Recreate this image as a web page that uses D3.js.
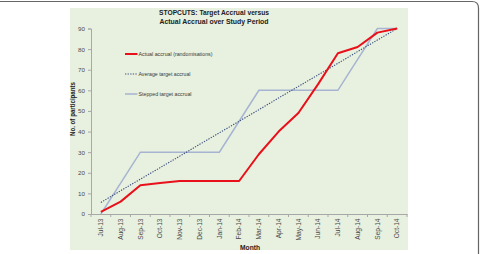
<!DOCTYPE html>
<html>
<head>
<meta charset="utf-8">
<script src="https://cdn.jsdelivr.net/npm/d3@7"></script>
<style>
  html, body { margin: 0; padding: 0; background: #fff; }
  svg { display: block; }
  text { font-family: "Liberation Sans Narrow", "Liberation Sans", Arial, sans-serif; }
</style>
</head>
<body>
<div id="chart"></div>
<script>
// Data
var months = ["Jul-13", "Aug-13", "Sep-13", "Oct-13", "Nov-13", "Dec-13", "Jan-14", "Feb-14",
              "Mar-14", "Apr-14", "May-14", "Jun-14", "Jul-14", "Aug-14", "Sep-14", "Oct-14"];
var actual = [1, 6, 14, 15, 16, 16, 16, 16, 29, 40, 49, 63, 78, 81, 88, 90];
var averageTarget = [5.6, 11.3, 16.9, 22.5, 28.1, 33.8, 39.4, 45, 50.6, 56.3, 61.9, 67.5, 73.1, 78.8, 84.4, 90];
var steppedTarget = [0, 15, 30, 30, 30, 30, 30, 45, 60, 60, 60, 60, 60, 75, 90, 90];
var yTicks = [0, 10, 20, 30, 40, 50, 60, 70, 80, 90];

// Sizing
var width = 480;
var height = 254;

var svg = d3.select("#chart")
    .append("svg")
    .attr("width", width)
    .attr("height", height);

// Outer frame (rounded, top and right visible)
svg.append("path")
    .attr("d", "M0,1.5 H472 Q478.5,1.5 478.5,8 V254")
    .attr("fill", "none")
    .attr("stroke", "#666")
    .attr("stroke-width", 1.2);

// Green panel
svg.append("rect")
    .attr("x", 70).attr("y", 8)
    .attr("width", 338).attr("height", 242)
    .attr("fill", "#e8f0df");

// Scales
var x = d3.scaleBand().domain(months).range([91, 407]);
var y = d3.scaleLinear().domain([0, 90]).range([214, 28.5]);
var cx = function (d, i) { return x(months[i]) + x.bandwidth() / 2; };

// Y axis
var yAxis = svg.append("g")
    .attr("transform", "translate(91,0)")
    .call(d3.axisLeft(y).tickValues(yTicks).tickSize(3).tickPadding(3));
yAxis.select(".domain").attr("stroke", "#a8a8a8");
yAxis.selectAll(".tick line").attr("stroke", "#a8a8a8");
yAxis.selectAll(".tick text")
    .attr("fill", "#4a4a4a")
    .style("font-size", "6.2px");

// X axis
var xAxis = svg.append("g")
    .attr("transform", "translate(0,214)")
    .call(d3.axisBottom(x).tickSize(0).tickPadding(0));
xAxis.select(".domain").attr("stroke", "#a8a8a8");
xAxis.selectAll(".tick text")
    .attr("fill", "#4a4a4a")
    .style("font-size", "6.6px")
    .attr("text-anchor", "end")
    .attr("transform", "rotate(-90)")
    .attr("x", -4.5)
    .attr("y", 0)
    .attr("dy", "0.35em");

// tick marks between categories
svg.append("g")
    .selectAll("line")
    .data(months.concat(["end"]))
    .enter()
    .append("line")
    .attr("x1", (d, i) => x.range()[0] + i * x.step())
    .attr("x2", (d, i) => x.range()[0] + i * x.step())
    .attr("y1", 214)
    .attr("y2", 217)
    .attr("stroke", "#a8a8a8");

var line = d3.line()
    .x(cx)
    .y(d => y(d));

// Series
svg.append("path")
    .datum(steppedTarget)
    .attr("d", line)
    .attr("fill", "none")
    .attr("stroke", "#a6b4d2")
    .attr("stroke-width", 1.5);

svg.append("path")
    .datum(averageTarget)
    .attr("d", line)
    .attr("fill", "none")
    .attr("stroke", "#3a4f7e")
    .attr("stroke-width", 1.1)
    .attr("stroke-dasharray", "1.3,1.3");

svg.append("path")
    .datum(actual)
    .attr("d", line)
    .attr("fill", "none")
    .attr("stroke", "#e8101a")
    .attr("stroke-width", 2)
    .attr("stroke-linejoin", "round");

// Legend
var legend = [
    { label: "Actual accrual (randomisations)", color: "#e8101a", w: 2, dash: null, y: 54, len: 74 },
    { label: "Average target accrual", color: "#3a4f7e", w: 1.1, dash: "1.3,1.3", y: 74, len: 52 },
    { label: "Stepped target accrual", color: "#a6b4d2", w: 1.5, dash: null, y: 94, len: 53 }
];
var lg = svg.append("g").selectAll("g").data(legend).enter().append("g");
lg.append("line")
    .attr("x1", 125).attr("x2", 137.5)
    .attr("y1", d => d.y).attr("y2", d => d.y)
    .attr("stroke", d => d.color)
    .attr("stroke-width", d => d.w)
    .attr("stroke-dasharray", d => d.dash);
lg.append("text")
    .attr("x", 138.5)
    .attr("y", d => d.y)
    .attr("dy", "0.35em")
    .attr("fill", "#3a3a3a")
    .style("font-size", "5.6px")
    .attr("textLength", d => d.len)
    .attr("lengthAdjust", "spacingAndGlyphs")
    .text(d => d.label);

// Title
svg.append("text")
    .attr("x", 214).attr("y", 14.5)
    .attr("text-anchor", "middle")
    .style("font-size", "7.8px").style("font-weight", "bold")
    .attr("fill", "#222")
    .attr("textLength", 110).attr("lengthAdjust", "spacingAndGlyphs")
    .text("STOPCUTS: Target  Accrual versus");
svg.append("text")
    .attr("x", 214).attr("y", 24)
    .attr("text-anchor", "middle")
    .style("font-size", "7.8px").style("font-weight", "bold")
    .attr("fill", "#222")
    .attr("textLength", 109).attr("lengthAdjust", "spacingAndGlyphs")
    .text("Actual Accrual over Study Period");

// Axis titles
svg.append("text")
    .attr("transform", "translate(75,109) rotate(-90)")
    .attr("text-anchor", "middle")
    .style("font-size", "7px").style("font-weight", "bold")
    .attr("fill", "#222")
    .attr("textLength", 54).attr("lengthAdjust", "spacingAndGlyphs")
    .text("No. of participants");

svg.append("text")
    .attr("x", 250).attr("y", 250)
    .attr("text-anchor", "middle")
    .style("font-size", "7px").style("font-weight", "bold")
    .attr("fill", "#222")
    .attr("textLength", 20).attr("lengthAdjust", "spacingAndGlyphs")
    .text("Month");
</script>
</body>
</html>
